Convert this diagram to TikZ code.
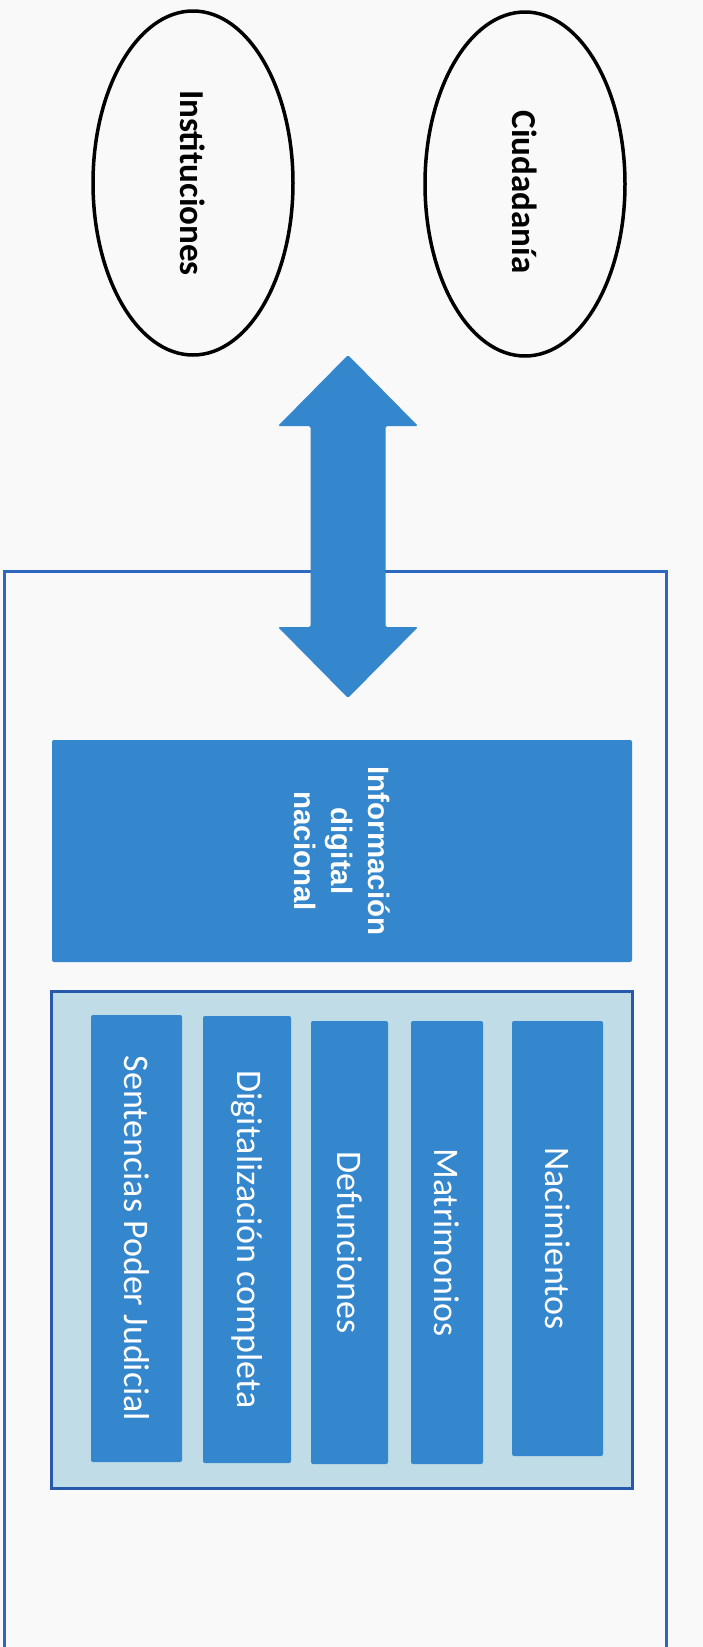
\documentclass[tikz,border=0pt]{standalone}
\usepackage{fontspec}
\setmainfont{Carlito}
\newfontfamily\arialfont{Liberation Sans}
\usetikzlibrary{shapes.geometric}
\definecolor{barblue}{RGB}{52,134,205}
\definecolor{panelfill}{RGB}{192,220,231}
\definecolor{paneledge}{RGB}{40,88,170}
\definecolor{outeredge}{RGB}{44,104,190}
\definecolor{paper}{RGB}{249,249,249}
\begin{document}
\begin{tikzpicture}[x=1pt,y=-1pt,
  oval/.style={ellipse, draw=black, line width=3.5pt, inner sep=0pt, rotate=-90,
    minimum width=344pt, minimum height=200pt, font=\bfseries\fontsize{35}{42}\selectfont},
  bar/.style={fill=barblue, rounded corners=2pt, inner sep=0pt, text=white, rotate=-90,
    font=\fontsize{36}{43}\selectfont},
  frame/.style={draw=outeredge, line width=3pt, inner sep=0pt},
  bigarrow/.style={fill=barblue, rounded corners=1.5pt},
]
\clip (0,0) rectangle (703,1647);
\fill[paper] (0,0) rectangle (703,1647);

% top ellipses
\node[oval] (inst) at (193,183) {Instituciones};
\node[oval] (ciud) at (525,184) {\hspace*{16pt}Ciudadanía};

% outer frame
\node[frame, anchor=north west, minimum width=662pt, minimum height=1120pt] (outer) at (3,570) {};

% double arrow
\coordinate (ac) at (348,526.5);
\fill[bigarrow] ([yshift=-171.5]ac) -- ([xshift=70,yshift=-100.5]ac) -- ([xshift=37.5,yshift=-100.5]ac)
  -- ([xshift=37.5,yshift=100.5]ac) -- ([xshift=70,yshift=100.5]ac) -- ([yshift=171.5]ac)
  -- ([xshift=-70,yshift=100.5]ac) -- ([xshift=-37.5,yshift=100.5]ac)
  -- ([xshift=-37.5,yshift=-100.5]ac) -- ([xshift=-70,yshift=-100.5]ac) -- cycle;

% information box
\node[bar, minimum width=222pt, minimum height=580pt, align=center,
  font=\arialfont\bfseries\fontsize{29.5}{37}\selectfont] (info) at (342,851)
  {Información\\digital\\nacional};

% panel
\node[fill=panelfill, draw=paneledge, line width=3pt, inner sep=0pt,
  minimum width=581pt, minimum height=497pt] (panel) at (341.5,1239.5) {};

% bars
\node[bar, minimum width=447pt, minimum height=91pt] (sent) at (136.5,1238.5) {Sentencias Poder Judicial};
\node[bar, minimum width=447pt, minimum height=88pt] (digit) at (247,1239.5) {Digitalización completa};
\node[bar, minimum width=443pt, minimum height=77pt] (def) at (349.5,1242.5) {Defunciones};
\node[bar, minimum width=443pt, minimum height=72pt] (mat) at (447,1242.5) {Matrimonios};
\node[bar, minimum width=435pt, minimum height=91pt] (nac) at (557.5,1238.5) {Nacimientos};
\end{tikzpicture}
\end{document}
